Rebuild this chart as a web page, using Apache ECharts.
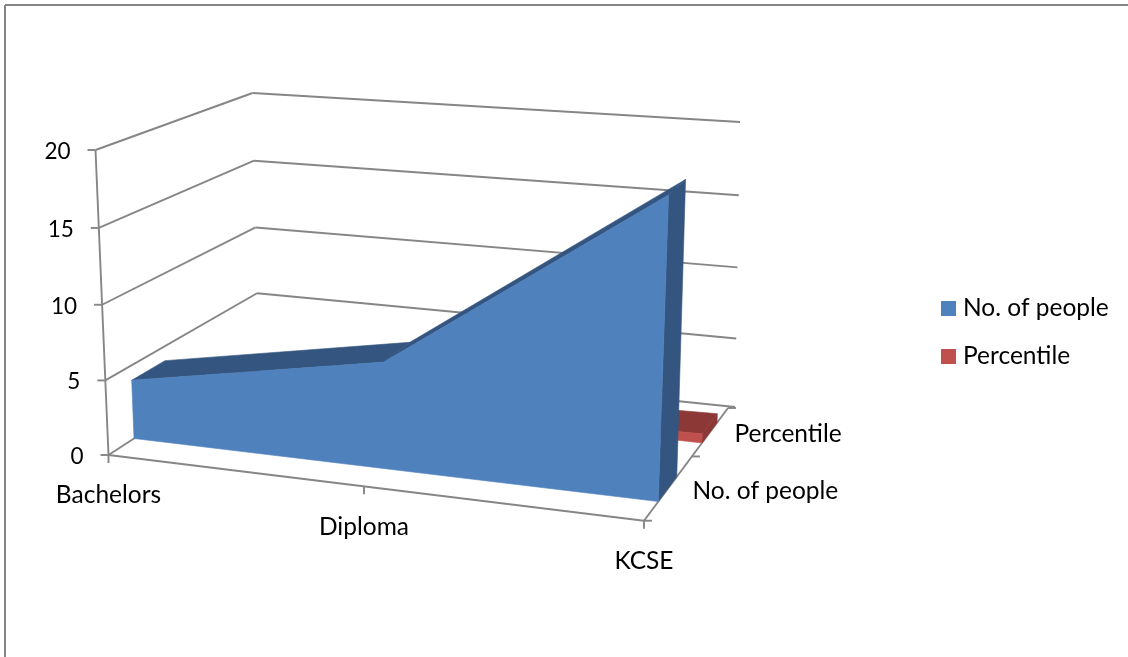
<!DOCTYPE html>
<html>
<head>
<meta charset="utf-8">
<style>html,body{margin:0;padding:0;background:#fff}#chart{width:1128px;height:657px}</style>
<script src="https://cdn.jsdelivr.net/npm/echarts@6/dist/echarts.min.js"></script>
</head>
<body>
<div id="chart"></div>
<script>
// Survey data
const categories = ['Bachelors', 'Diploma', 'KCSE'];
const peopleValues = [4, 7, 19];
const percentileValues = [0.13, 0.23, 0.63];
const seriesNames = ['No. of people', 'Percentile'];
const valueTicks = [0, 5, 10, 15, 20];

const FONT = 'Lato';
const FONT_SIZE = 24.5;
const TICK_FONT_SIZE = 22.5;
const AXIS_GREY = '#868686';

// Perspective box: screen corners of the front and back planes of the plot volume.
const FRONT = { bl: [108.5, 455], br: [644, 520.7], tl: [95.5, 150], tr: [656, 190] };
const BACK = { bl: [258.5, 358], br: [728, 408], tl: [252.5, 93], tr: [733, 121.5] };
const X_RECEDE = 1.096;
const Y_RECEDE = 1.03;

// Depth bands along the category floor, and label anchors for the depth axis.
const DEPTH_BANDS = [[0.17, 0.39], [0.69, 0.87]];
const DEPTH_LABEL_AT = [0.28, 0.78];
const DEPTH_TICKS = [0, 0.57, 1];

const mix = (a, b, t) => [a[0] + (b[0] - a[0]) * t, a[1] + (b[1] - a[1]) * t];
const recede = (t, k) => t / (t + k * (1 - t));

// Maps grid-normalised position plus depth to the projected screen point.
function warp(u, v, z) {
  const x = recede(u, X_RECEDE);
  const y = recede(v, Y_RECEDE);
  const plane = (p) => mix(mix(p.bl, p.br, x), mix(p.tl, p.tr, x), y);
  return mix(plane(FRONT), plane(BACK), z);
}

function projector(params, api) {
  const cs = params.coordSys;
  return (cat, val, z) => {
    const p = api.coord([cat, val]);
    return warp((p[0] - cs.x) / cs.width, (cs.y + cs.height - p[1]) / cs.height, z);
  };
}

const poly = (points, fill) => ({
  type: 'polygon',
  shape: { points },
  style: { fill, stroke: fill, lineWidth: 0.6 }
});

const line = (a, b) => ({
  type: 'line',
  shape: { x1: a[0], y1: a[1], x2: b[0], y2: b[1] },
  style: { stroke: AXIS_GREY, lineWidth: 1.9 }
});

const label = (text, x, y, align, size) => ({
  type: 'text',
  style: {
    text, x, y: y + 1.5, align, verticalAlign: 'middle',
    fontFamily: FONT, fontSize: size || FONT_SIZE, fill: '#000'
  }
});

// Walls, floor edges, ticks and tick labels.
function renderFrame(params, api) {
  const P = projector(params, api);
  const last = categories.length - 1;
  const children = [];
  valueTicks.forEach((t) => {
    const front = P(0, t, 0);
    const back = P(0, t, 1);
    const end = P(last, t, 1);
    children.push(line(front, back));
    children.push(line(back, [end[0] + 7, end[1] + (t === 0 ? -1 : 0.5)]));
    children.push(line([front[0] - 8, front[1]], front));
    children.push(label(String(t), front[0] - 25, front[1], 'right', TICK_FONT_SIZE));
  });
  children.push(line(P(0, 20, 0), P(0, 0, 0)));
  children.push(line(P(0, 0, 0), P(last, 0, 0)));
  children.push(line(P(last, 0, 0), P(last, 0, 1)));
  categories.forEach((c, i) => {
    const p = P(i, 0, 0);
    children.push(line(p, [p[0], p[1] + 8]));
    children.push(label(c, p[0], p[1] + 39, 'center'));
  });
  DEPTH_TICKS.forEach((z) => {
    const p = P(last, 0, z);
    children.push(line(p, [p[0] + 8, p[1]]));
  });
  seriesNames.forEach((s, i) => {
    const p = P(last, 0, DEPTH_LABEL_AT[i]);
    children.push(label(s, p[0] + 25, p[1], 'left'));
  });
  return { type: 'group', children };
}

// Top face per segment; the last item closes the slab with its side and whole front face.
function slabRenderer(values, band, frontColor, darkColor) {
  const [z0, z1] = band;
  return (params, api) => {
    const P = projector(params, api);
    const i = params.dataIndex;
    const v = api.value(1);
    const last = values.length - 1;
    const children = [];
    if (i < last) {
      const n = values[i + 1];
      children.push(poly([P(i, v, z0), P(i + 1, n, z0), P(i + 1, n, z1), P(i, v, z1)], darkColor));
    } else {
      children.push(poly([P(i, 0, z0), P(i, v, z0), P(i, v, z1), P(i, 0, z1)], darkColor));
      const outline = values.map((val, k) => P(k, val, z0));
      children.push(poly([P(0, 0, z0)].concat(outline, [P(last, 0, z0)]), frontColor));
    }
    return { type: 'group', children };
  };
}

const slabSeries = (name, values, band, frontColor, darkColor) => ({
  type: 'custom',
  name,
  coordinateSystem: 'cartesian2d',
  renderItem: slabRenderer(values, band, frontColor, darkColor),
  data: values.map((v, i) => [i, v]),
  encode: { x: 0, y: 1 },
  itemStyle: { color: frontColor },
  silent: true
});

const chart = echarts.init(document.getElementById('chart'), null, { renderer: 'canvas' });
chart.setOption({
  animation: false,
  backgroundColor: '#fff',
  grid: { left: 108, top: 150, width: 536, height: 305 },
  xAxis: { type: 'category', data: categories, boundaryGap: false, show: false },
  yAxis: { type: 'value', min: 0, max: 20, interval: 5, show: false },
  legend: {
    data: seriesNames,
    orient: 'vertical',
    left: 941,
    top: 296,
    padding: 0,
    itemWidth: 15,
    itemHeight: 15,
    itemGap: 23,
    icon: 'rect',
    selectedMode: false,
    textStyle: { fontFamily: FONT, fontSize: FONT_SIZE, color: '#000', padding: [6, 0, 0, 2] }
  },
  // Outer chart frame, open towards the right and bottom edges of the page.
  graphic: [
    { type: 'line', shape: { x1: 5, y1: 5, x2: 1128, y2: 5 }, style: { stroke: AXIS_GREY, lineWidth: 2 } },
    { type: 'line', shape: { x1: 5, y1: 5, x2: 5, y2: 657 }, style: { stroke: AXIS_GREY, lineWidth: 2 } }
  ],
  series: [
    {
      type: 'custom',
      name: 'frame',
      coordinateSystem: 'cartesian2d',
      renderItem: renderFrame,
      data: [[0, 0]],
      encode: { x: 0, y: 1 },
      silent: true
    },
    slabSeries(seriesNames[1], percentileValues, DEPTH_BANDS[1], '#c0504d', '#8c3836'),
    slabSeries(seriesNames[0], peopleValues, DEPTH_BANDS[0], '#4f81bd', '#34557f')
  ]
});
</script>
</body>
</html>
